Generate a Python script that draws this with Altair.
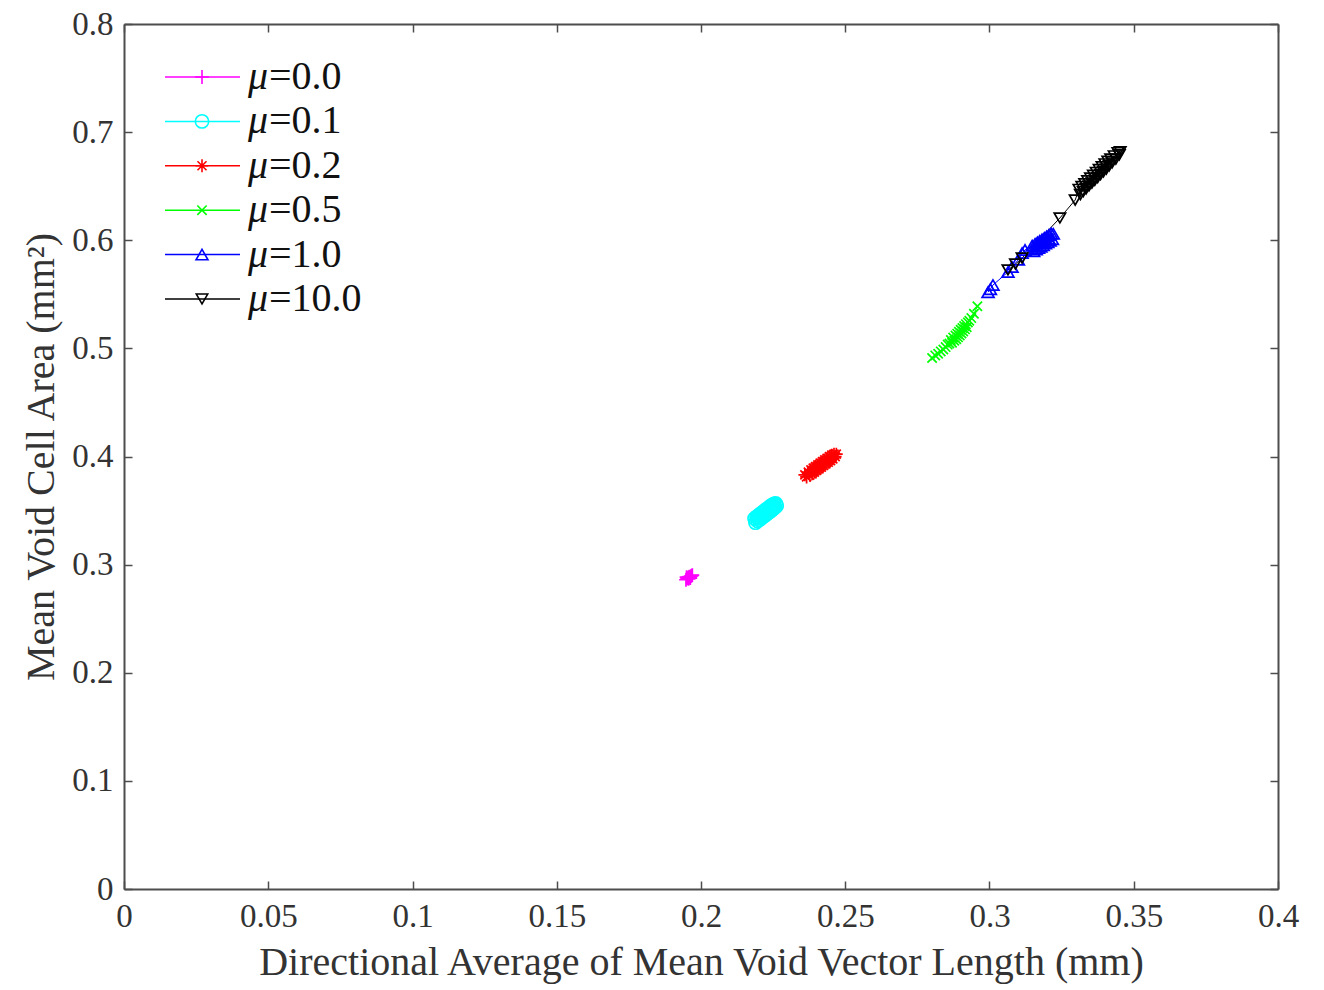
import altair as alt
import pandas as pd

# ---------------- data ----------------
series = ["μ=0.0", "μ=0.1", "μ=0.2", "μ=0.5", "μ=1.0", "μ=10.0"]
legend_values = ["=0.0", "=0.1", "=0.2", "=0.5", "=1.0", "=10.0"]
colors = ["#ff00ff", "#00ffff", "#ff0000", "#00ff00", "#0000ff", "#000000"]

x_mu00 = [0.1948, 0.1952, 0.1955, 0.1958, 0.1960, 0.1962, 0.1965, 0.1968, 0.1950, 0.1957, 0.1963, 0.1970]
y_mu00 = [0.2860, 0.2872, 0.2880, 0.2885, 0.2890, 0.2878, 0.2893, 0.2899, 0.2885, 0.2868, 0.2875, 0.2902]

x_mu01 = [0.2186, 0.2189, 0.2193, 0.2196, 0.2199, 0.2202, 0.2205, 0.2208, 0.2211, 0.2214,
          0.2217, 0.2220, 0.2223, 0.2226, 0.2229, 0.2232, 0.2235, 0.2238, 0.2241, 0.2244,
          0.2247, 0.2250, 0.2253, 0.2256, 0.2259, 0.2262, 0.2240, 0.2220, 0.2200, 0.2250]
y_mu01 = [0.3427, 0.3389, 0.3441, 0.3404, 0.3454, 0.3416, 0.3466, 0.3428, 0.3478, 0.3440,
          0.3491, 0.3453, 0.3503, 0.3465, 0.3515, 0.3477, 0.3527, 0.3490, 0.3540, 0.3502,
          0.3552, 0.3514, 0.3560, 0.3528, 0.3565, 0.3545, 0.3516, 0.3475, 0.3434, 0.3536]

x_mu02 = [0.2360, 0.2366, 0.2372, 0.2377, 0.2381, 0.2385, 0.2389, 0.2393, 0.2397, 0.2401,
          0.2405, 0.2409, 0.2413, 0.2417, 0.2421, 0.2425, 0.2429, 0.2433, 0.2437, 0.2441,
          0.2445, 0.2449, 0.2453, 0.2457, 0.2461, 0.2465, 0.2469, 0.2430, 0.2410, 0.2450,
          0.2390]
y_mu02 = [0.3830, 0.3811, 0.3856, 0.3827, 0.3877, 0.3840, 0.3892, 0.3856, 0.3907, 0.3871,
          0.3923, 0.3886, 0.3938, 0.3901, 0.3953, 0.3917, 0.3968, 0.3932, 0.3983, 0.3947,
          0.3999, 0.3962, 0.4012, 0.3979, 0.4022, 0.3998, 0.4022, 0.3948, 0.3910, 0.3986,
          0.3872]

x_mu05 = [0.2801, 0.2812, 0.2822, 0.2831, 0.2840, 0.2848, 0.2855, 0.2861, 0.2866, 0.2870,
          0.2874, 0.2878, 0.2882, 0.2885, 0.2888, 0.2891, 0.2894, 0.2897, 0.2900, 0.2903,
          0.2906, 0.2909, 0.2912, 0.2915, 0.2918, 0.2921, 0.2925, 0.2930, 0.2937, 0.2946,
          0.2958]
y_mu05 = [0.4911, 0.4935, 0.4950, 0.4972, 0.4990, 0.5012, 0.5035, 0.5045, 0.5078, 0.5052,
          0.5100, 0.5070, 0.5118, 0.5085, 0.5136, 0.5102, 0.5154, 0.5120, 0.5172, 0.5138,
          0.5188, 0.5156, 0.5206, 0.5176, 0.5224, 0.5195, 0.5240, 0.5255, 0.5280, 0.5320,
          0.5390]

x_mu10 = [0.2995, 0.3003, 0.3012, 0.3064, 0.3078, 0.3100, 0.3113, 0.3123, 0.3148, 0.3153,
          0.3158, 0.3162, 0.3166, 0.3170, 0.3174, 0.3178, 0.3182, 0.3186, 0.3190, 0.3194,
          0.3198, 0.3202, 0.3206, 0.3210, 0.3214, 0.3218, 0.3221, 0.3205, 0.3185, 0.3165]
y_mu10 = [0.5520, 0.5548, 0.5586, 0.5706, 0.5753, 0.5820, 0.5882, 0.5910, 0.5950, 0.5899,
          0.5967, 0.5914, 0.5981, 0.5928, 0.5994, 0.5941, 0.6008, 0.5955, 0.6022, 0.5969,
          0.6036, 0.5982, 0.6049, 0.5996, 0.6063, 0.6010, 0.6060, 0.6017, 0.5983, 0.5949]

x_mu100 = [0.3064, 0.3090, 0.3113, 0.3244, 0.3297, 0.3310, 0.3315, 0.3320, 0.3325, 0.3330,
           0.3335, 0.3340, 0.3345, 0.3350, 0.3355, 0.3360, 0.3365, 0.3370, 0.3375, 0.3380,
           0.3385, 0.3390, 0.3395, 0.3400, 0.3405, 0.3410, 0.3415, 0.3420, 0.3425, 0.3432,
           0.3438, 0.3445, 0.3450, 0.3453]
y_mu100 = [0.5725, 0.5780, 0.5835, 0.6206, 0.6372, 0.6470, 0.6423, 0.6496, 0.6449, 0.6522,
           0.6476, 0.6549, 0.6502, 0.6575, 0.6528, 0.6601, 0.6554, 0.6627, 0.6580, 0.6653,
           0.6607, 0.6680, 0.6633, 0.6706, 0.6659, 0.6730, 0.6688, 0.6750, 0.6715, 0.6780,
           0.6750, 0.6810, 0.6790, 0.6818]

x_ticks = [0, 0.05, 0.1, 0.15, 0.2, 0.25, 0.3, 0.35, 0.4]
y_ticks = [0, 0.1, 0.2, 0.3, 0.4, 0.5, 0.6, 0.7, 0.8]
x_title = "Directional Average of Mean Void Vector Length (mm)"
y_title = "Mean Void Cell Area (mm²)"

# ---------------- styling ----------------
FONT = "Liberation Serif"
AX = "#4d4d4d"
TXT = "#333333"
W, H = 1154, 865

shapes = [
    "M-1,0L1,0M0,-1L0,1",                                               # plus
    "circle",
    "M-1,0L1,0M0,-1L0,1M-0.7,-0.7L0.7,0.7M-0.7,0.7L0.7,-0.7",           # asterisk
    "M-0.75,-0.75L0.75,0.75M-0.75,0.75L0.75,-0.75",                     # x
    "triangle-up",
    "triangle-down",
]
sizes = [190, 130, 170, 160, 240, 240]

all_x = [x_mu00, x_mu01, x_mu02, x_mu05, x_mu10, x_mu100]
all_y = [y_mu00, y_mu01, y_mu02, y_mu05, y_mu10, y_mu100]
rows = []
for name, xs, ys in zip(series, all_x, all_y):
    for xv, yv in zip(xs, ys):
        rows.append({"x": xv, "y": yv, "series": name})
df = pd.DataFrame(rows)

leg = pd.DataFrame({"series": series, "idx": list(range(len(series))),
                    "mu": ["μ"] * len(series), "val": legend_values})

xs_ = alt.Scale(domain=[0, 0.4], nice=False, zero=False)
ys_ = alt.Scale(domain=[0, 0.8], nice=False, zero=False)
col = alt.Color("series:N", scale=alt.Scale(domain=series, range=colors), legend=None)
shp = alt.Shape("series:N", scale=alt.Scale(domain=series, range=shapes), legend=None)
siz = alt.Size("series:N", scale=alt.Scale(domain=series, range=sizes), legend=None)

# main axes with labels and titles
ax_x_main = alt.Axis(orient="bottom", values=x_ticks, format="~g", ticks=False, tickSize=0,
                     grid=False, domainColor=AX, domainWidth=2, labelFlush=False,
                     labelFont=FONT, labelFontSize=33, labelColor=TXT, labelPadding=11,
                     title=x_title, titleFont=FONT, titleFontSize=40, titleFontWeight="normal",
                     titleColor=TXT, titlePadding=9)
ax_y_main = alt.Axis(orient="left", values=y_ticks, format="~g", ticks=False, tickSize=0,
                     grid=False, domainColor=AX, domainWidth=2, labelFlush=False,
                     labelFont=FONT, labelFontSize=33, labelColor=TXT, labelPadding=11,
                     title=y_title, titleFont=FONT, titleFontSize=40, titleFontWeight="normal",
                     titleColor=TXT, titlePadding=10)
# inward ticks (bottom / left)
ax_x_in_b = alt.Axis(orient="top", offset=-H, values=x_ticks, labels=False, domain=False,
                     ticks=True, tickSize=8, tickColor=AX, tickWidth=1.5, grid=False, title="")
ax_y_in_l = alt.Axis(orient="right", offset=-W, values=y_ticks, labels=False, domain=False,
                     ticks=True, tickSize=8, tickColor=AX, tickWidth=1.5, grid=False, title="")
# box top / right with inward ticks
ax_x_top = alt.Axis(orient="bottom", offset=-H, values=x_ticks, labels=False, domain=True,
                    domainColor=AX, domainWidth=2,
                    ticks=True, tickSize=8, tickColor=AX, tickWidth=1.5, grid=False, title="")
ax_y_right = alt.Axis(orient="left", offset=-W, values=y_ticks, labels=False, domain=True,
                      domainColor=AX, domainWidth=2,
                      ticks=True, tickSize=8, tickColor=AX, tickWidth=1.5, grid=False, title="")

lines = alt.Chart(df).mark_line(strokeWidth=1).encode(
    x=alt.X("x:Q", scale=xs_, axis=ax_x_main),
    y=alt.Y("y:Q", scale=ys_, axis=ax_y_main),
    color=col,
)
points = alt.Chart(df).mark_point(filled=False, strokeWidth=1.7, opacity=1).encode(
    x=alt.X("x:Q", scale=xs_, axis=ax_x_in_b),
    y=alt.Y("y:Q", scale=ys_, axis=ax_y_in_l),
    color=col, shape=shp, size=siz,
)
box = alt.Chart(df).mark_point(opacity=0).encode(
    x=alt.X("x:Q", scale=xs_, axis=ax_x_top),
    y=alt.Y("y:Q", scale=ys_, axis=ax_y_right),
)

# legend (drawn manually to show line + marker like the original)
leg_y = alt.Y("idx:Q", scale=alt.Scale(domain=[0, 5], range=[53, 275]), axis=None)
leg_line = alt.Chart(leg).mark_rule(strokeWidth=1.5).encode(
    x=alt.value(41), x2=alt.value(116), y=leg_y, color=col)
leg_pt = alt.Chart(leg).mark_point(filled=False, strokeWidth=1.6, opacity=1).encode(
    x=alt.value(78), y=leg_y, color=col, shape=shp, size=siz)
leg_mu = alt.Chart(leg).mark_text(font=FONT, fontStyle="italic", fontSize=40, align="left",
                                  baseline="middle", color="#111111").encode(
    x=alt.value(124), y=leg_y, text="mu:N")
leg_val = alt.Chart(leg).mark_text(font=FONT, fontSize=40, align="left",
                                   baseline="middle", color="#111111").encode(
    x=alt.value(145), y=leg_y, text="val:N")

chart = alt.layer(lines, points, box, leg_line, leg_pt, leg_mu, leg_val).resolve_scale(
    x="independent", y="independent"
).resolve_axis(
    x="independent", y="independent"
).properties(
    width=W, height=H,
    padding={"left": 124, "top": 24, "right": 46, "bottom": 101},
    autosize=alt.AutoSizeParams(type="none"),
    background="white",
).configure_view(stroke=None)

chart.save("out.html", embed_options={"renderer": "svg", "actions": False})
